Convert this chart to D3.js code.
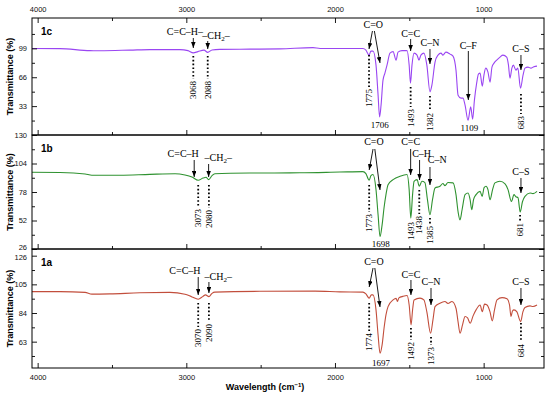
<!DOCTYPE html>
<html>
<head>
<meta charset="utf-8">
<script src="https://cdn.jsdelivr.net/npm/d3@7"></script>
<style>
    body { margin: 0; background: #fff; }
    svg { display: block; }
</style>
</head>
<body>
<div id="root"></div>
<script>
// axis ticks
const xTicks = [4000, 3000, 2000, 1000];
const xMinorTicks = [3500, 2500, 1500];
const yTicks1c = [33, 66, 99], yMinor1c = [16.5, 49.5, 82.5, 115.5];
const yTicks1b = [26, 52, 78, 104, 130], yMinor1b = [39, 65, 91, 117];
const yTicks1a = [63, 84, 105, 126], yMinor1a = [52.5, 73.5, 94.5, 115.5];

// spectra: wavenumber (cm-1) / transmittance (%)
const wn1c = [4038, 3850, 3648, 3581, 3379, 3245, 3043, 2989, 2953, 2922, 2881, 2856, 2827, 2774, 2572, 2370, 2148, 2100, 1812, 1792,
    1771, 1758, 1744, 1724, 1710, 1700, 1690, 1677, 1664, 1650, 1630, 1609, 1589, 1576, 1549, 1515, 1501, 1492, 1482, 1468,
    1448, 1435, 1422, 1402, 1382, 1361, 1348, 1327, 1307, 1287, 1274, 1254, 1226, 1206, 1186, 1172, 1152, 1139, 1125, 1105,
    1087, 1074, 1062, 1047, 1035, 1024, 1009, 998, 986, 971, 957, 944, 930, 912, 890, 870, 845, 833, 823, 810,
    800, 783, 770, 752, 735, 722, 702, 682, 662, 641];
const tr1c = [98.9, 98.7, 96.4, 96.3, 97.0, 97.6, 97.6, 96.4, 93.9, 95.3, 97.0, 94.4, 97.2, 97.8, 98.1, 98.4, 99.8, 98.9, 98.9, 97.0,
    91.3, 95.8, 95.8, 79.8, 45.5, 20.7, 34.1, 62.7, 70.7, 79.8, 93.6, 95.3, 85.6, 94.7, 96.4, 96.4, 79.8, 59.3, 79.8, 93.6,
    91.3, 85.6, 91.3, 93.6, 79.8, 49.3, 57.0, 83.3, 91.3, 93.6, 91.3, 94.7, 92.4, 90.1, 74.1, 45.5, 42.1, 42.1, 34.1, 16.9,
    32.1, 18.1, 39.8, 59.3, 69.5, 70.7, 55.8, 68.4, 76.4, 71.9, 60.4, 77.6, 82.1, 85.6, 89.0, 91.3, 89.0, 79.8, 65.0, 76.4,
    79.8, 74.1, 76.4, 53.5, 68.4, 76.4, 77.6, 76.4, 78.1, 78.7];

const wn1b = [4038, 3850, 3681, 3635, 3446, 3245, 3076, 3009, 2962, 2920, 2888, 2867, 2850, 2827, 2808, 2572, 2236, 1967, 1812, 1792,
    1770, 1758, 1744, 1724, 1710, 1697, 1683, 1670, 1657, 1643, 1609, 1562, 1515, 1501, 1490, 1478, 1468, 1448, 1433, 1415,
    1395, 1378, 1361, 1344, 1327, 1294, 1274, 1260, 1240, 1206, 1186, 1172, 1159, 1145, 1125, 1105, 1091, 1080, 1068, 1051,
    1024, 1010, 997, 984, 971, 957, 940, 924, 890, 856, 836, 813, 796, 783, 769, 754, 739, 722, 688, 668,
    641];
const tr1b = [96.0, 95.8, 94.4, 93.3, 93.3, 94.1, 94.6, 93.5, 91.7, 88.7, 90.7, 91.4, 89.3, 93.0, 94.6, 95.3, 95.5, 96.2, 96.6, 94.8,
    88.8, 93.0, 93.9, 80.1, 57.1, 37.3, 48.0, 63.6, 75.6, 84.7, 89.3, 92.4, 93.9, 80.2, 54.2, 75.6, 87.8, 89.3, 83.2, 87.8,
    86.6, 71.0, 57.2, 71.0, 81.7, 83.2, 85.7, 83.8, 86.6, 86.3, 75.6, 60.0, 52.6, 61.8, 75.6, 77.1, 71.0, 61.8, 71.0, 75.6,
    78.6, 74.0, 82.0, 83.2, 80.2, 71.0, 80.2, 86.3, 87.8, 85.4, 80.2, 69.4, 75.6, 73.7, 72.8, 59.7, 69.1, 74.0, 77.1, 76.5,
    78.6];

const wn1a = [4038, 3850, 3681, 3635, 3514, 3312, 3110, 3009, 2962, 2920, 2888, 2871, 2848, 2827, 2808, 2505, 2134, 1967, 1812, 1792,
    1770, 1755, 1744, 1724, 1710, 1697, 1683, 1670, 1657, 1643, 1609, 1589, 1580, 1570, 1543, 1515, 1501, 1488, 1478, 1468,
    1428, 1402, 1382, 1357, 1341, 1327, 1294, 1260, 1240, 1213, 1186, 1172, 1159, 1142, 1125, 1108, 1091, 1071, 1051, 1024,
    1009, 994, 977, 957, 942, 927, 910, 876, 843, 826, 816, 806, 796, 776, 751, 736, 722, 688, 668, 641];
const tr1a = [99.7, 99.7, 99.1, 97.8, 98.0, 98.8, 99.1, 97.8, 95.8, 94.1, 96.2, 97.3, 96.0, 98.4, 99.3, 99.9, 100.0, 99.5, 99.3, 98.0,
    94.9, 97.3, 97.3, 86.3, 67.9, 54.5, 60.6, 72.8, 82.6, 88.7, 93.6, 94.7, 92.4, 95.1, 96.2, 96.8, 89.9, 75.3, 86.3, 93.6,
    94.9, 93.6, 84.8, 69.2, 78.9, 88.7, 91.2, 92.4, 91.0, 92.4, 87.5, 77.5, 69.2, 75.3, 81.4, 80.4, 76.5, 81.9, 86.3, 89.9,
    85.0, 90.5, 89.9, 84.8, 78.2, 86.3, 93.6, 95.3, 94.4, 89.9, 81.4, 85.5, 86.3, 84.8, 77.7, 84.8, 88.0, 89.2, 88.8, 89.9];

// peak annotations: group labels with arrows, dotted peak marks, plain numbers
// x in cm-1, y offsets in px from the panel top
const notes1c = {
    groups: [
        { t: ['C=C–H–'], x: 3009, y: 17, arrows: [[2953, 20, 2953, 30]] },
        { t: ['–CH', '2', '–'], x: 2800, y: 21, arrows: [[2856, 23, 2856, 31]] },
        { t: ['C=O'], x: 1742, y: 9.5, arrows: [[1748, 13, 1771, 31], [1735, 13, 1697, 45]] },
        { t: ['C=C'], x: 1491, y: 18.5, arrows: [[1491, 21, 1491, 33]] },
        { t: ['C–N'], x: 1361, y: 28, arrows: [[1361, 31, 1361, 46]] },
        { t: ['C–F'], x: 1103, y: 30.5, arrows: [[1103, 33, 1103, 82]] },
        { t: ['C–S'], x: 749, y: 34, arrows: [[749, 37, 749, 52]] }
    ],
    marks: [['3068', 2953, 38, 61], ['2088', 2856, 38, 61], ['1775', 1771, 37, 69], ['1493', 1491, 69, 89],
        ['1382', 1361, 78, 93], ['683', 749, 76, 96]],
    flat: [['1706', 1699, 110], ['1109', 1096, 112.5]]
};
const notes1b = {
    groups: [
        { t: ['C=C–H'], x: 3021, y: 21.5, arrows: [[2947, 25, 2947, 42]] },
        { t: ['–CH', '2', '–'], x: 2785, y: 25.5, arrows: [[2850, 29, 2850, 42]] },
        { t: ['C=O'], x: 1738, y: 10, arrows: [[1744, 14, 1770, 35], [1732, 14, 1697, 55]] },
        { t: ['C=C'], x: 1491, y: 10, arrows: [[1491, 14, 1491, 40]] },
        { t: ['C–H'], x: 1417, y: 21.5, arrows: [[1431, 25, 1431, 45]] },
        { t: ['C–N'], x: 1312, y: 28, arrows: [[1361, 32, 1361, 50]] },
        { t: ['C–S'], x: 749, y: 40, arrows: [[749, 43, 749, 58]] }
    ],
    marks: [['3073', 2920, 50, 72], ['2080', 2848, 50, 73], ['1773', 1770, 50, 77], ['1493', 1491, 85, 85],
        ['1438', 1433, 55, 79], ['1385', 1361, 83, 89], ['681', 755, 80, 86]],
    flat: [['1698', 1692, 111.5]]
};
const notes1a = {
    groups: [
        { t: ['C=C–H'], x: 3009, y: 25, arrows: [[2920, 28, 2920, 46]] },
        { t: ['–CH', '2', '–'], x: 2785, y: 31, arrows: [[2848, 33, 2848, 44]] },
        { t: ['C=O'], x: 1738, y: 15.5, arrows: [[1744, 19, 1770, 38], [1732, 19, 1697, 58]] },
        { t: ['C=C'], x: 1489, y: 28.5, arrows: [[1489, 31, 1489, 46]] },
        { t: ['C–N'], x: 1354, y: 36, arrows: [[1354, 39, 1354, 56]] },
        { t: ['C–S'], x: 749, y: 36, arrows: [[749, 39, 749, 56]] }
    ],
    marks: [['3070', 2920, 54, 78], ['2090', 2848, 54, 73], ['1774', 1770, 54, 82], ['1492', 1489, 79, 91],
        ['1373', 1354, 88, 96], ['684', 749, 74, 93]],
    flat: [['1697', 1691, 116.5]]
};

let left = 32, right = 544,
    sans = 'Liberation Sans, Arial, sans-serif',
    serif = 'Liberation Serif, Times New Roman, serif';

let panels = [
    { name: '1c', top: 18, bottom: 135, domain: [0, 133.7], ticks: yTicks1c, minor: yMinor1c, wn: wn1c, tr: tr1c, color: '#9a46f2', notes: notes1c },
    { name: '1b', top: 135, bottom: 249, domain: [26, 130], ticks: yTicks1b, minor: yMinor1b, wn: wn1b, tr: tr1b, color: '#2f9230', notes: notes1b },
    { name: '1a', top: 249, bottom: 368, domain: [43.7, 130.9], ticks: yTicks1a, minor: yMinor1a, wn: wn1a, tr: tr1a, color: '#c24e3c', notes: notes1a }
];

let x = d3.scaleLinear().domain([4038, 594]).range([left, right]);

let svg = d3.select('#root').append('svg')
    .attr('width', 550)
    .attr('height', 397)
    .style('font-family', sans);

svg.append('defs').append('marker')
    .attr('id', 'arrowHead')
    .attr('viewBox', '0 0 10 10')
    .attr('preserveAspectRatio', 'none')
    .attr('refX', 10).attr('refY', 5)
    .attr('markerUnits', 'userSpaceOnUse')
    .attr('markerWidth', 6).attr('markerHeight', 4.5)
    .attr('orient', 'auto')
    .append('path').attr('d', 'M0,0L10,5L0,10z').attr('fill', '#000');

function styleAxis(g, showText) {
    g.select('.domain').remove();
    g.selectAll('.tick line').attr('stroke', '#000').attr('stroke-width', 0.9);
    g.selectAll('.tick text').attr('fill', '#111').style('font-size', '7.5px').style('font-family', sans);
    if (!showText) g.selectAll('.tick text').remove();
}

panels.forEach(function (p, idx) {
    let y = d3.scaleLinear().domain(p.domain).range([p.bottom, p.top]);
    let g = svg.append('g').attr('class', 'panel-' + p.name);

    // spectrum
    let line = d3.line()
        .x(d => x(d[0]))
        .y(d => y(d[1]))
        .curve(d3.curveMonotoneX);
    g.append('path')
        .datum(d3.zip(p.wn, p.tr))
        .attr('fill', 'none')
        .attr('stroke', p.color)
        .attr('stroke-width', 1.1)
        .attr('stroke-linejoin', 'round')
        .attr('d', line);

    // y axes, ticks pointing inward
    let yAxis = g.append('g').attr('transform', 'translate(' + left + ',0)')
        .call(d3.axisLeft(y).tickValues(p.ticks).tickSize(-5).tickPadding(5))
        .call(a => styleAxis(a, true));
    // labels sitting on the panel joins are nudged apart a little
    yAxis.selectAll('.tick text')
        .attr('dy', d => d == p.domain[0] ? '0.1em' : (p.top + (y(d) - p.top) < p.top + 8 && idx > 0 && d != p.domain[1] ? '0.55em' : '0.32em'));
    g.append('g').attr('transform', 'translate(' + left + ',0)')
        .call(d3.axisLeft(y).tickValues(p.minor).tickSize(-3).tickFormat(''))
        .call(a => styleAxis(a, false));
    g.append('g').attr('transform', 'translate(' + right + ',0)')
        .call(d3.axisRight(y).tickValues(p.ticks).tickSize(-5).tickFormat(''))
        .call(a => styleAxis(a, false));
    g.append('g').attr('transform', 'translate(' + right + ',0)')
        .call(d3.axisRight(y).tickValues(p.minor).tickSize(-3).tickFormat(''))
        .call(a => styleAxis(a, false));

    // x axis at the bottom of each panel
    g.append('g').attr('transform', 'translate(0,' + p.bottom + ')')
        .call(d3.axisBottom(x).tickValues(xTicks).tickFormat(d3.format('d')).tickSize(-5).tickPadding(7))
        .call(a => styleAxis(a, idx == panels.length - 1));
    g.append('g').attr('transform', 'translate(0,' + p.bottom + ')')
        .call(d3.axisBottom(x).tickValues(xMinorTicks).tickSize(-3).tickFormat(''))
        .call(a => styleAxis(a, false));
    if (idx == 0) {
        g.append('g').attr('transform', 'translate(0,' + p.top + ')')
            .call(d3.axisTop(x).tickValues(xTicks).tickFormat(d3.format('d')).tickSize(-5).tickPadding(6))
            .call(a => styleAxis(a, true));
        g.append('g').attr('transform', 'translate(0,' + p.top + ')')
            .call(d3.axisTop(x).tickValues(xMinorTicks).tickSize(-3).tickFormat(''))
            .call(a => styleAxis(a, false));
    }

    // frame
    g.append('rect')
        .attr('x', left).attr('y', p.top)
        .attr('width', right - left).attr('height', p.bottom - p.top)
        .attr('fill', 'none').attr('stroke', '#000').attr('stroke-width', 1);

    // panel name and y title
    g.append('text')
        .attr('x', 41).attr('y', p.top + 16.5)
        .style('font-size', '10px').style('font-weight', 'bold')
        .text(p.name);
    g.append('text')
        .attr('transform', 'translate(13,' + ((p.top + p.bottom) / 2) + ') rotate(-90)')
        .attr('text-anchor', 'middle')
        .style('font-size', '9px').style('font-weight', 'bold')
        .text('Transmittance (%)');

    // annotations
    let n = p.notes;
    n.groups.forEach(function (gr) {
        let t = g.append('text')
            .attr('x', x(gr.x)).attr('y', p.top + gr.y)
            .attr('text-anchor', 'middle')
            .style('font-family', serif).style('font-size', '10px');
        gr.t.forEach(function (part, i) {
            let ts = t.append('tspan').text(part);
            if (gr.t.length == 3 && i == 1) ts.attr('dy', 2).style('font-size', '7px');
            if (gr.t.length == 3 && i == 2) ts.attr('dy', -2);
        });
        gr.arrows.forEach(function (a) {
            g.append('line')
                .attr('x1', x(a[0])).attr('y1', p.top + a[1])
                .attr('x2', x(a[2])).attr('y2', p.top + a[3])
                .attr('stroke', '#000').attr('stroke-width', 0.9)
                .attr('marker-end', 'url(#arrowHead)');
        });
    });
    n.marks.forEach(function (m) {
        if (m[3] > m[2]) {
            g.append('line')
                .attr('x1', x(m[1])).attr('x2', x(m[1]))
                .attr('y1', p.top + m[2]).attr('y2', p.top + m[3])
                .attr('stroke', '#000').attr('stroke-width', 1.8)
                .attr('stroke-dasharray', '1.6,2.2');
        }
        g.append('text')
            .attr('transform', 'translate(' + x(m[1]) + ',' + (p.top + m[3] + 2) + ') rotate(-90)')
            .attr('text-anchor', 'end')
            .attr('dy', '0.35em')
            .style('font-family', serif).style('font-size', '9px')
            .text(m[0]);
    });
    n.flat.forEach(function (f) {
        g.append('text')
            .attr('x', x(f[1])).attr('y', p.top + f[2])
            .attr('text-anchor', 'middle')
            .style('font-family', serif).style('font-size', '9px')
            .text(f[0]);
    });
});

// x title
let title = svg.append('text')
    .attr('x', 265).attr('y', 390)
    .attr('text-anchor', 'middle')
    .style('font-size', '9px').style('font-weight', 'bold');
title.append('tspan').text('Wavelength (cm');
title.append('tspan').attr('dy', -3.5).style('font-size', '6px').text('−1');
title.append('tspan').attr('dy', 3.5).text(')');
</script>
</body>
</html>
